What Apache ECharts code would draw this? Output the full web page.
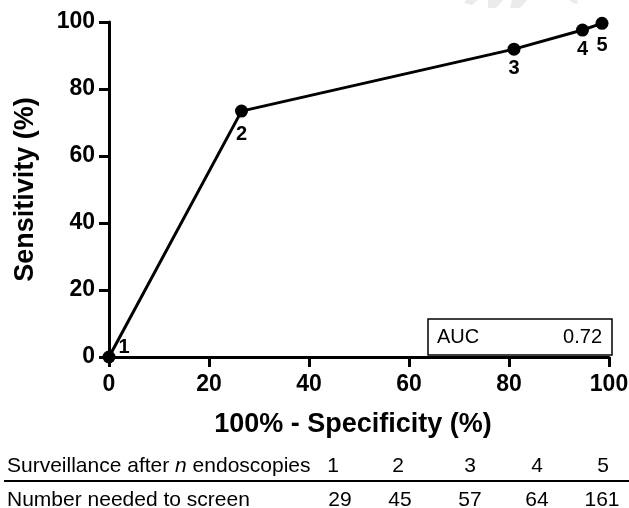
<!DOCTYPE html>
<html>
<head>
<meta charset="utf-8">
<script src="https://cdn.jsdelivr.net/npm/echarts@6/dist/echarts.min.js"></script>
<style>html,body{margin:0;padding:0;background:#fff;}#c{width:629px;height:508px;}</style>
</head>
<body>
<div id="c"></div>
<script>
// Data
const pointLabels = ['1', '2', '3', '4', '5'];
const falsePosRate = [0, 26.5, 81.0, 94.7, 98.6];   // 100% - Specificity (%)
const sensitivity = [0, 73.4, 91.9, 97.6, 99.6];    // Sensitivity (%)
const aucValue = '0.72';
const nEndoscopies = ['1', '2', '3', '4', '5'];
const numberNeeded = ['29', '45', '57', '64', '161'];
const xTicks = [0, 20, 40, 60, 80, 100];
const yTicks = [0, 20, 40, 60, 80, 100];

const FONT = '"Liberation Sans", Arial, Helvetica, sans-serif';
const chart = echarts.init(document.getElementById('c'));

const labelDist = [0, 7, 3, 3, 6];
const seriesData = falsePosRate.map((x, i) => {
  const d = { value: [x, sensitivity[i]], label: { formatter: pointLabels[i] } };
  if (i === 0) {
    d.label.position = [16, -13];
  } else {
    d.label.position = 'bottom';
    d.label.distance = labelDist[i];
  }
  return d;
});

// column centers for table
const colX = [333, 398, 470, 537, 603];
const colX2 = [340, 400, 470, 537, 602];
const TF = 21;

const WM = '#ebebeb';
const graphics = [
  // faint watermark fragments at the top edge
  { type: 'polygon', shape: { points: [[466, 0], [478, 0], [472, 5], [464, 3]] }, style: { fill: WM }, z: 0 },
  { type: 'polygon', shape: { points: [[488, 0], [503, 0], [496, 8], [488, 8]] }, style: { fill: WM }, z: 0 },
  { type: 'polygon', shape: { points: [[512, 0], [527, 0], [520, 8], [510, 8]] }, style: { fill: WM }, z: 0 },
  { type: 'polygon', shape: { points: [[569, 0], [577, 0], [578, 4], [573, 3]] }, style: { fill: WM }, z: 0 },
  { type: 'rect', shape: { x: 428, y: 319, width: 184, height: 36 },
    style: { fill: '#fff', stroke: '#000', lineWidth: 1.5 }, z: 10 },
  { type: 'text', x: 437, y: 337, z: 11,
    style: { text: 'AUC', font: '20px ' + FONT, fill: '#000', verticalAlign: 'middle' } },
  { type: 'text', x: 602, y: 337, z: 11,
    style: { text: aucValue, font: '20px ' + FONT, fill: '#000', align: 'right', verticalAlign: 'middle' } },
  { type: 'text', x: 7, y: 466, z: 11,
    style: { text: '{a|Surveillance after }{i|n}{a| endoscopies}', fill: '#000', verticalAlign: 'middle',
      rich: { a: { fontSize: TF, fontFamily: FONT, fill: '#000' }, i: { fontSize: TF, fontFamily: FONT, fontStyle: 'italic', fill: '#000' } } } },
  { type: 'line', shape: { x1: 4, y1: 481, x2: 629, y2: 481 }, style: { stroke: '#000', lineWidth: 2 } },
  { type: 'text', x: 7, y: 500, z: 11,
    style: { text: 'Number needed to screen', font: TF + 'px ' + FONT, fill: '#000', verticalAlign: 'middle' } }
];
nEndoscopies.forEach((t, i) => {
  graphics.push({ type: 'text', x: colX[i], y: 466, z: 11,
    style: { text: t, font: TF + 'px ' + FONT, fill: '#000', align: 'center', verticalAlign: 'middle' } });
});
numberNeeded.forEach((t, i) => {
  graphics.push({ type: 'text', x: colX2[i], y: 500, z: 11,
    style: { text: t, font: TF + 'px ' + FONT, fill: '#000', align: 'center', verticalAlign: 'middle' } });
});

chart.setOption({
  backgroundColor: '#fff',
  animation: false,
  grid: { left: 109, right: 20, top: 22, bottom: 151, containLabel: false, outerBoundsMode: 'none' },
  xAxis: {
    type: 'value', min: xTicks[0], max: xTicks[xTicks.length - 1], interval: 20,
    name: '100% - Specificity (%)', nameLocation: 'middle', nameGap: 54,
    nameTextStyle: { fontFamily: FONT, fontWeight: 'bold', fontSize: 27, color: '#000', padding: [0, 12, 0, 0] },
    axisLine: { show: true, onZero: false, lineStyle: { color: '#000', width: 3 } },
    axisTick: { show: true, length: 10, lineStyle: { color: '#000', width: 3 } },
    axisLabel: { fontFamily: FONT, fontWeight: 'bold', fontSize: 23, color: '#000', margin: 16 },
    splitLine: { show: false }
  },
  yAxis: {
    type: 'value', min: yTicks[0], max: yTicks[yTicks.length - 1], interval: 20,
    name: 'Sensitivity (%)', nameLocation: 'middle', nameGap: 70,
    nameTextStyle: { fontFamily: FONT, fontWeight: 'bold', fontSize: 27, color: '#000' },
    axisLine: { show: true, onZero: false, lineStyle: { color: '#000', width: 3 } },
    axisTick: { show: true, length: 10, lineStyle: { color: '#000', width: 3 } },
    axisLabel: { fontFamily: FONT, fontWeight: 'bold', fontSize: 23, color: '#000', margin: 14 },
    splitLine: { show: false }
  },
  series: [{
    type: 'line', data: seriesData, clip: false,
    symbol: 'circle', symbolSize: 13,
    lineStyle: { color: '#000', width: 3 },
    itemStyle: { color: '#000' },
    label: { show: true, fontFamily: FONT, fontWeight: 'bold', fontSize: 20, color: '#000' },
    z: 5
  }],
  graphic: graphics
});
</script>
</body>
</html>
